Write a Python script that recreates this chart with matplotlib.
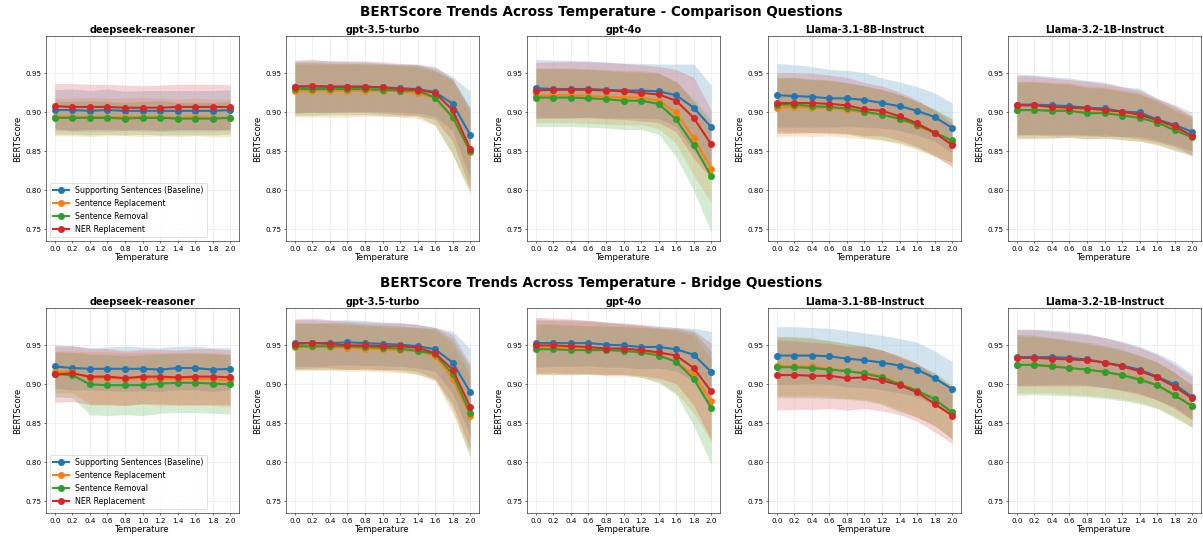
import matplotlib
matplotlib.use('Agg')
import matplotlib.pyplot as plt
import numpy as np

temps = [0.0, 0.2, 0.4, 0.6, 0.8, 1.0, 1.2, 1.4, 1.6, 1.8, 2.0]
variants = ['Supporting Sentences (Baseline)', 'Sentence Replacement',
            'Sentence Removal', 'NER Replacement']
colors = ['#1f77b4', '#ff7f0e', '#2ca02c', '#d62728']
models = ['deepseek-reasoner', 'gpt-3.5-turbo', 'gpt-4o',
          'Llama-3.1-8B-Instruct', 'Llama-3.2-1B-Instruct']

# comparison questions: mean / std per variant (baseline, replacement, removal, NER)
cmp_deepseek_mean = [
    [0.903, 0.903, 0.902, 0.903, 0.902, 0.902, 0.902, 0.902, 0.902, 0.902, 0.903],
    [0.894, 0.894, 0.894, 0.894, 0.894, 0.894, 0.894, 0.893, 0.894, 0.893, 0.893],
    [0.893, 0.893, 0.893, 0.893, 0.892, 0.893, 0.893, 0.892, 0.892, 0.892, 0.893],
    [0.908, 0.907, 0.907, 0.907, 0.906, 0.906, 0.906, 0.907, 0.907, 0.907, 0.907]]
cmp_deepseek_std = [
    [0.026, 0.027, 0.026, 0.027, 0.025, 0.026, 0.026, 0.026, 0.026, 0.026, 0.026],
    [0.024, 0.024, 0.025, 0.024, 0.024, 0.025, 0.024, 0.024, 0.024, 0.024, 0.024],
    [0.021, 0.021, 0.022, 0.021, 0.021, 0.021, 0.022, 0.021, 0.021, 0.021, 0.021],
    [0.029, 0.030, 0.029, 0.029, 0.029, 0.028, 0.029, 0.029, 0.029, 0.029, 0.029]]

cmp_gpt35_mean = [
    [0.933, 0.933, 0.933, 0.933, 0.933, 0.932, 0.931, 0.930, 0.926, 0.911, 0.871],
    [0.928, 0.928, 0.928, 0.928, 0.928, 0.928, 0.927, 0.925, 0.918, 0.893, 0.849],
    [0.930, 0.930, 0.930, 0.930, 0.930, 0.929, 0.928, 0.928, 0.919, 0.894, 0.850],
    [0.933, 0.934, 0.933, 0.933, 0.933, 0.932, 0.930, 0.929, 0.925, 0.903, 0.853]]
cmp_gpt35_std = [
    [0.033, 0.033, 0.033, 0.032, 0.032, 0.031, 0.031, 0.031, 0.031, 0.035, 0.056],
    [0.034, 0.034, 0.034, 0.034, 0.033, 0.033, 0.033, 0.033, 0.035, 0.048, 0.050],
    [0.034, 0.034, 0.033, 0.033, 0.033, 0.033, 0.033, 0.033, 0.035, 0.048, 0.055],
    [0.034, 0.034, 0.033, 0.033, 0.033, 0.033, 0.033, 0.033, 0.034, 0.040, 0.052]]

cmp_gpt4o_mean = [
    [0.931, 0.930, 0.930, 0.930, 0.929, 0.928, 0.928, 0.927, 0.922, 0.906, 0.881],
    [0.922, 0.922, 0.922, 0.921, 0.920, 0.919, 0.919, 0.915, 0.900, 0.867, 0.828],
    [0.919, 0.919, 0.919, 0.918, 0.917, 0.915, 0.915, 0.911, 0.891, 0.858, 0.818],
    [0.928, 0.929, 0.929, 0.929, 0.928, 0.927, 0.925, 0.923, 0.915, 0.893, 0.859]]
cmp_gpt4o_std = [
    [0.037, 0.037, 0.037, 0.036, 0.036, 0.035, 0.035, 0.035, 0.040, 0.056, 0.054],
    [0.035, 0.035, 0.035, 0.035, 0.035, 0.035, 0.035, 0.036, 0.040, 0.048, 0.044],
    [0.037, 0.037, 0.037, 0.037, 0.037, 0.037, 0.037, 0.039, 0.048, 0.058, 0.072],
    [0.036, 0.036, 0.036, 0.036, 0.036, 0.036, 0.036, 0.036, 0.040, 0.052, 0.044]]

cmp_llama8_mean = [
    [0.922, 0.921, 0.920, 0.918, 0.918, 0.916, 0.912, 0.908, 0.902, 0.894, 0.880],
    [0.906, 0.907, 0.906, 0.906, 0.903, 0.900, 0.897, 0.891, 0.883, 0.873, 0.861],
    [0.910, 0.910, 0.908, 0.907, 0.905, 0.901, 0.897, 0.892, 0.884, 0.874, 0.864],
    [0.912, 0.912, 0.912, 0.911, 0.909, 0.904, 0.902, 0.895, 0.886, 0.874, 0.858]]
cmp_llama8_std = [
    [0.041, 0.040, 0.039, 0.037, 0.036, 0.035, 0.032, 0.031, 0.031, 0.031, 0.032],
    [0.037, 0.037, 0.037, 0.036, 0.035, 0.034, 0.033, 0.032, 0.031, 0.030, 0.030],
    [0.035, 0.035, 0.034, 0.034, 0.033, 0.033, 0.032, 0.031, 0.030, 0.030, 0.028],
    [0.039, 0.039, 0.038, 0.037, 0.036, 0.034, 0.032, 0.031, 0.030, 0.029, 0.028]]

cmp_llama1_mean = [
    [0.910, 0.910, 0.909, 0.908, 0.906, 0.905, 0.901, 0.900, 0.891, 0.884, 0.875],
    [0.903, 0.903, 0.903, 0.903, 0.900, 0.900, 0.897, 0.894, 0.887, 0.879, 0.870],
    [0.903, 0.903, 0.902, 0.902, 0.899, 0.899, 0.896, 0.893, 0.887, 0.877, 0.868],
    [0.909, 0.909, 0.907, 0.906, 0.905, 0.903, 0.901, 0.897, 0.890, 0.882, 0.870]]
cmp_llama1_std = [
    [0.039, 0.038, 0.037, 0.036, 0.035, 0.034, 0.032, 0.031, 0.027, 0.026, 0.025],
    [0.037, 0.037, 0.036, 0.035, 0.034, 0.033, 0.032, 0.031, 0.029, 0.027, 0.025],
    [0.036, 0.036, 0.035, 0.034, 0.033, 0.032, 0.031, 0.030, 0.028, 0.026, 0.024],
    [0.038, 0.038, 0.037, 0.036, 0.035, 0.034, 0.032, 0.031, 0.028, 0.026, 0.025]]

# bridge questions
brg_deepseek_mean = [
    [0.923, 0.921, 0.920, 0.920, 0.920, 0.920, 0.919, 0.921, 0.921, 0.919, 0.920],
    [0.916, 0.916, 0.908, 0.908, 0.907, 0.908, 0.907, 0.907, 0.907, 0.907, 0.905],
    [0.913, 0.912, 0.900, 0.899, 0.899, 0.899, 0.901, 0.902, 0.902, 0.901, 0.900],
    [0.913, 0.914, 0.910, 0.910, 0.908, 0.910, 0.910, 0.909, 0.910, 0.910, 0.909]]
brg_deepseek_std = [
    [0.028, 0.028, 0.027, 0.028, 0.029, 0.028, 0.028, 0.028, 0.028, 0.028, 0.027],
    [0.027, 0.027, 0.034, 0.034, 0.034, 0.033, 0.034, 0.034, 0.034, 0.034, 0.034],
    [0.029, 0.029, 0.039, 0.039, 0.038, 0.039, 0.038, 0.038, 0.038, 0.038, 0.038],
    [0.036, 0.036, 0.036, 0.036, 0.035, 0.035, 0.035, 0.035, 0.036, 0.036, 0.035]]

brg_gpt35_mean = [
    [0.953, 0.953, 0.953, 0.954, 0.953, 0.952, 0.951, 0.949, 0.945, 0.928, 0.890],
    [0.948, 0.948, 0.948, 0.947, 0.946, 0.945, 0.944, 0.943, 0.937, 0.907, 0.860],
    [0.949, 0.949, 0.949, 0.949, 0.948, 0.947, 0.946, 0.943, 0.939, 0.913, 0.863],
    [0.952, 0.953, 0.952, 0.950, 0.950, 0.949, 0.949, 0.947, 0.940, 0.919, 0.871]]
brg_gpt35_std = [
    [0.030, 0.030, 0.029, 0.029, 0.029, 0.028, 0.028, 0.028, 0.028, 0.040, 0.056],
    [0.030, 0.030, 0.030, 0.030, 0.029, 0.029, 0.029, 0.030, 0.033, 0.045, 0.050],
    [0.030, 0.030, 0.030, 0.030, 0.029, 0.029, 0.029, 0.030, 0.033, 0.045, 0.058],
    [0.032, 0.032, 0.031, 0.031, 0.030, 0.030, 0.030, 0.030, 0.033, 0.045, 0.055]]

brg_gpt4o_mean = [
    [0.953, 0.953, 0.953, 0.953, 0.951, 0.950, 0.948, 0.948, 0.945, 0.938, 0.916],
    [0.947, 0.947, 0.947, 0.947, 0.945, 0.944, 0.942, 0.938, 0.929, 0.913, 0.879],
    [0.945, 0.945, 0.944, 0.944, 0.944, 0.943, 0.941, 0.937, 0.929, 0.907, 0.870],
    [0.950, 0.950, 0.949, 0.948, 0.946, 0.946, 0.944, 0.941, 0.937, 0.921, 0.891]]
brg_gpt4o_std = [
    [0.031, 0.030, 0.030, 0.029, 0.029, 0.028, 0.028, 0.027, 0.028, 0.034, 0.052],
    [0.035, 0.035, 0.034, 0.034, 0.034, 0.033, 0.033, 0.034, 0.040, 0.050, 0.053],
    [0.032, 0.032, 0.032, 0.031, 0.031, 0.031, 0.032, 0.035, 0.042, 0.060, 0.073],
    [0.036, 0.035, 0.035, 0.034, 0.034, 0.033, 0.033, 0.033, 0.036, 0.048, 0.062]]

brg_llama8_mean = [
    [0.937, 0.937, 0.937, 0.936, 0.933, 0.931, 0.928, 0.924, 0.919, 0.908, 0.894],
    [0.924, 0.923, 0.923, 0.920, 0.917, 0.915, 0.910, 0.901, 0.892, 0.881, 0.864],
    [0.922, 0.922, 0.921, 0.919, 0.917, 0.914, 0.909, 0.900, 0.892, 0.881, 0.864],
    [0.912, 0.912, 0.911, 0.911, 0.908, 0.909, 0.905, 0.899, 0.890, 0.875, 0.860]]
brg_llama8_std = [
    [0.037, 0.037, 0.036, 0.036, 0.036, 0.035, 0.035, 0.035, 0.035, 0.035, 0.035],
    [0.038, 0.038, 0.037, 0.036, 0.035, 0.034, 0.034, 0.034, 0.034, 0.034, 0.034],
    [0.039, 0.039, 0.038, 0.037, 0.036, 0.035, 0.035, 0.035, 0.034, 0.034, 0.034],
    [0.045, 0.044, 0.043, 0.042, 0.041, 0.040, 0.039, 0.038, 0.037, 0.036, 0.036]]

brg_llama1_mean = [
    [0.935, 0.935, 0.935, 0.934, 0.932, 0.928, 0.924, 0.919, 0.910, 0.900, 0.884],
    [0.925, 0.925, 0.924, 0.921, 0.919, 0.916, 0.912, 0.907, 0.899, 0.887, 0.872],
    [0.925, 0.925, 0.923, 0.921, 0.919, 0.916, 0.912, 0.906, 0.899, 0.886, 0.872],
    [0.934, 0.934, 0.933, 0.932, 0.931, 0.928, 0.923, 0.917, 0.909, 0.897, 0.882]]
brg_llama1_std = [
    [0.036, 0.036, 0.035, 0.034, 0.033, 0.032, 0.031, 0.030, 0.030, 0.029, 0.029],
    [0.036, 0.036, 0.035, 0.034, 0.033, 0.032, 0.031, 0.030, 0.029, 0.028, 0.027],
    [0.039, 0.038, 0.037, 0.036, 0.035, 0.034, 0.033, 0.031, 0.030, 0.029, 0.027],
    [0.036, 0.036, 0.035, 0.034, 0.033, 0.032, 0.031, 0.030, 0.029, 0.028, 0.028]]

rows = [
    ('BERTScore Trends Across Temperature - Comparison Questions',
     [(cmp_deepseek_mean, cmp_deepseek_std), (cmp_gpt35_mean, cmp_gpt35_std),
      (cmp_gpt4o_mean, cmp_gpt4o_std), (cmp_llama8_mean, cmp_llama8_std),
      (cmp_llama1_mean, cmp_llama1_std)]),
    ('BERTScore Trends Across Temperature - Bridge Questions',
     [(brg_deepseek_mean, brg_deepseek_std), (brg_gpt35_mean, brg_gpt35_std),
      (brg_gpt4o_mean, brg_gpt4o_std), (brg_llama8_mean, brg_llama8_std),
      (brg_llama1_mean, brg_llama1_std)]),
]

W, H = 1203, 540
fig = plt.figure(figsize=(W / 50, H / 50), dpi=50)

col_left = [46, 286, 527, 768, 1008]
row_top = [36, 308]
ax_w, ax_h = 193, 205
sup_y = [12, 283]

x = np.array(temps)
for r, (sup, panels) in enumerate(rows):
    fig.text(0.5, 1 - sup_y[r] / H, sup, ha='center', va='center',
             fontsize=19.5, fontweight='bold')
    for c, (means, stds) in enumerate(panels):
        ax = fig.add_axes([col_left[c] / W, 1 - (row_top[r] + ax_h) / H,
                           ax_w / W, ax_h / H])
        for k in range(4):
            m = np.array(means[k])
            s = np.array(stds[k])
            ax.fill_between(x, m - s, m + s, color=colors[k], alpha=0.2,
                            linewidth=0)
            ax.plot(x, m, marker='o', color=colors[k], linewidth=3,
                    markersize=9, label=variants[k])
        ax.set_title(models[c], fontsize=14, fontweight='bold', pad=5)
        ax.set_xlabel('Temperature', fontsize=12.5, labelpad=2)
        ax.set_ylabel('BERTScore', fontsize=12.5, labelpad=4)
        ax.set_xticks(temps)
        ax.set_xticklabels([f'{t:.1f}' for t in temps])
        ax.set_yticks([0.75, 0.80, 0.85, 0.90, 0.95])
        ax.tick_params(labelsize=10.5)
        ax.set_ylim(0.735, 0.998)
        ax.grid(True, alpha=0.3)
        if c == 0:
            ax.legend(loc='lower left', fontsize=11.3)

fig.savefig('out.png', dpi=50)
